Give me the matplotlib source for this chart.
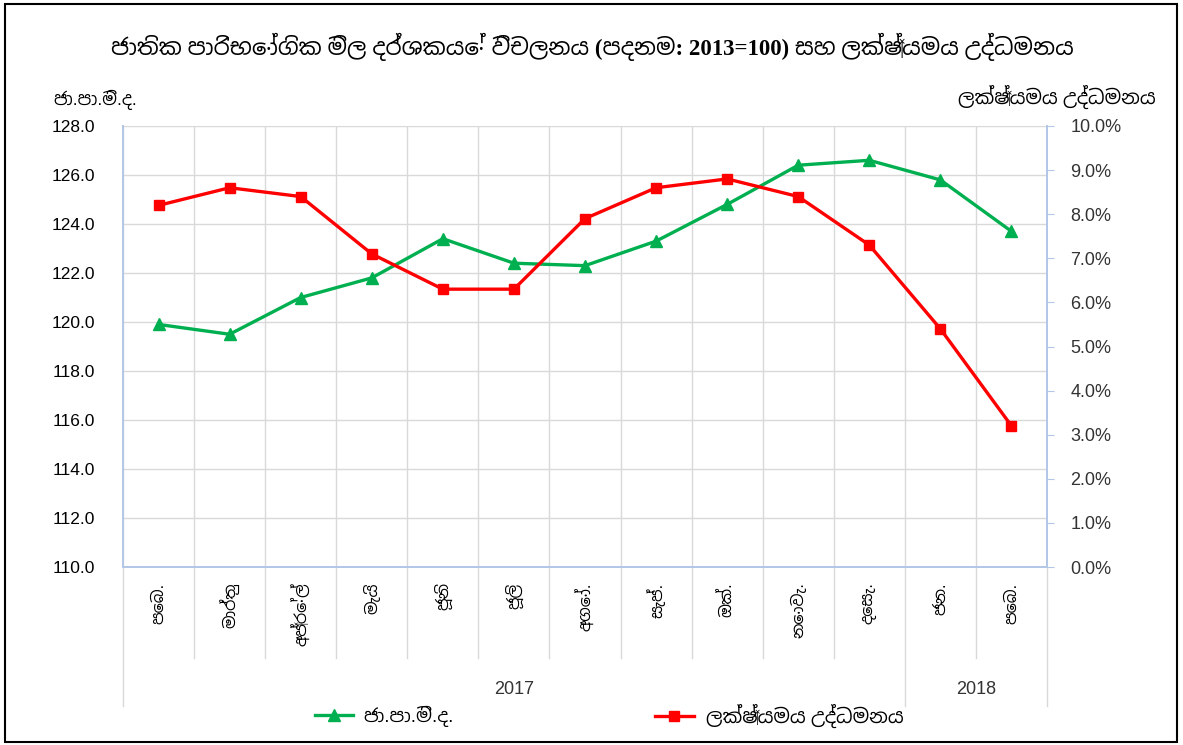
import matplotlib
matplotlib.use('Agg')
import matplotlib.pyplot as plt
import matplotlib.patches as patches
import matplotlib.transforms as mtransforms
from matplotlib import font_manager
from matplotlib.ft2font import FT2Font
from matplotlib.lines import Line2D

# data (Feb 2017 - Feb 2018)
months = ['පෙබ.', 'මාර්තු', 'අප්‍රේල්', 'මැයි', 'ජූනි', 'ජූලි', 'අගෝ.',
          'සැප්.', 'ඔක්.', 'නොවැ.', 'දෙසැ.', 'ජන.', 'පෙබ.']
years = ['2017', '2018']
year_spans = [(0, 10), (11, 12)]
ccpi = [119.9, 119.5, 121.0, 121.8, 123.4, 122.4, 122.3, 123.3, 124.8,
        126.4, 126.6, 125.8, 123.7]
inflation = [8.2, 8.6, 8.4, 7.1, 6.3, 6.3, 7.9, 8.6, 8.8, 8.4, 7.3, 5.4, 3.2]

title = 'ජාතික පාරිභෝගික මිල දර්ශකයේ විචලනය (පදනම: 2013=100) සහ ලක්ෂ්‍යමය උද්ධමනය'
left_label = 'ජා.පා.මි.ද.'
right_label = 'ලක්ෂ්‍යමය උද්ධමනය'


def find_sinhala_font():
    found = []
    for f in font_manager.fontManager.ttflist:
        try:
            if 0x0DA2 in FT2Font(f.fname).get_charmap():
                found.append(f.name)
        except Exception:
            continue
    if not found:
        return None

    def rank(name):
        n = name.lower()
        return ('sinhala' not in n, 'mono' in n, 'serif' in n and 'sans' not in n)
    return sorted(set(found), key=rank)[0]


si_font = find_sinhala_font()
latin = ['Liberation Sans', 'DejaVu Sans']
fam = latin + [si_font] if si_font else latin
fam_title = ['Liberation Serif', 'DejaVu Sans'] + ([si_font] if si_font else [])
plt.rcParams['font.family'] = fam

W, H = 1183, 745
fig = plt.figure(figsize=(W / 100, H / 100), dpi=100)

x0, x1, y0, y1 = 123, 1047, 126, 567
ax = fig.add_axes([x0 / W, 1 - y1 / H, (x1 - x0) / W, (y1 - y0) / H])
ax2 = ax.twinx()

grid_c = '#d9d9d9'
spine_c = '#b4c7e7'
xs = list(range(len(months)))

ax.set_xlim(-0.5, len(months) - 0.5)
ax.set_ylim(110, 128)
ax.set_yticks([110 + 2 * i for i in range(10)])
ax.set_yticklabels([f'{v:.1f}' for v in ax.get_yticks()], fontsize=12.5,
                   family=['Liberation Sans'])
ax.tick_params(axis='y', length=0, pad=20)
ax.set_xticks([])
ax.grid(False)
for v in ax.get_yticks():
    ax.axhline(v, color=grid_c, lw=1, zorder=0)
for b in range(len(months) + 1):
    ax.axvline(b - 0.5, color=grid_c, lw=1, zorder=0)

ax2.set_ylim(0, 10)
ax2.set_yticks(range(11))
ax2.set_yticklabels([f'{v:.1f}%' for v in range(11)], fontsize=13,
                    family=['Liberation Sans'], color='#333333')
ax2.tick_params(axis='y', length=5, color=spine_c, pad=12)

for a in (ax, ax2):
    a.spines['top'].set_visible(False)
    for s in ('left', 'right', 'bottom'):
        a.spines[s].set_color(spine_c)
        a.spines[s].set_linewidth(1.3)

ax.plot(xs, ccpi, color='#00b050', lw=2.4, marker='^', ms=9, zorder=3)
ax2.plot(xs, inflation, color='#ff0000', lw=2.4, marker='s', ms=7, zorder=3)

# multi-level category axis below the plot
trans = mtransforms.blended_transform_factory(ax.transData, ax.transAxes)
month_bottom = (y1 - 658) / (y1 - y0)
year_bottom = (y1 - 706) / (y1 - y0)
year_edges = [-0.5] + [e + 0.5 for _, e in year_spans]
for b in range(len(months) + 1):
    bottom = year_bottom if (b - 0.5) in year_edges else month_bottom
    ax.plot([b - 0.5, b - 0.5], [0, bottom], color=grid_c, lw=1,
            transform=trans, clip_on=False)
for i, m in enumerate(months):
    ax.text(i, -0.035, m, transform=trans, rotation=90, ha='center', va='top',
            fontsize=11.5)
for yr, (s, e) in zip(years, year_spans):
    ax.text((s + e) / 2, (y1 - 690) / (y1 - y0), yr, transform=trans,
            ha='center', va='center', fontsize=13, color='#333333')

fig.text(592 / W, 1 - 47 / H, title, ha='center', va='center', fontsize=16.5,
         fontweight='bold', family=fam_title)
fig.text(95 / W, 1 - 100 / H, left_label, ha='center', va='center', fontsize=12.5)
fig.text(1057 / W, 1 - 97 / H, right_label, ha='center', va='center', fontsize=14)

h1 = Line2D([], [], color='#00b050', lw=2.4, marker='^', ms=9)
h2 = Line2D([], [], color='#ff0000', lw=2.4, marker='s', ms=7)
fig.legend([h1], [left_label], loc='center left',
           bbox_to_anchor=(315 / W, 1 - 716 / H), frameon=False,
           fontsize=13.5, handlelength=2.0, handletextpad=0.6,
           borderpad=0, borderaxespad=0)
fig.legend([h2], [right_label], loc='center left',
           bbox_to_anchor=(655 / W, 1 - 716 / H), frameon=False,
           fontsize=14, handlelength=2.0, handletextpad=0.6,
           borderpad=0, borderaxespad=0)

fig.patches.append(patches.Rectangle((5 / W, 3 / H), 1172 / W, 738 / H,
                                     transform=fig.transFigure, fill=False,
                                     ec='black', lw=1.5))

fig.savefig('out.png', dpi=100, facecolor='white')
